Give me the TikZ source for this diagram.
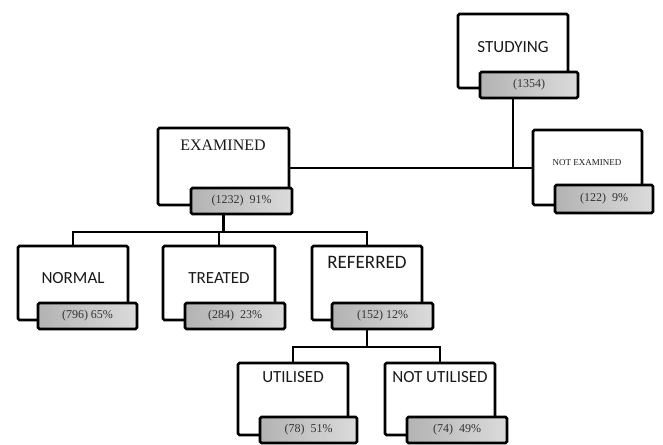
\documentclass[tikz,border=0pt]{standalone}
\usepackage{fontspec}
\setmainfont{Liberation Serif}
\newfontfamily\carlito{Carlito}
\begin{document}
\begin{tikzpicture}[x=1pt,y=-1pt,
  box/.style={draw=black,line width=2.8pt,fill=white,rounded corners=1.5pt,inner sep=0pt},
  lab/.style={draw=black,line width=2.8pt,rounded corners=1.5pt,inner sep=0pt,
    left color=black!30,right color=black!14,
    font=\fontsize{12}{12}\selectfont,text=black!80},
  ttl/.style={font=\carlito\fontsize{17}{17}\selectfont,text=black!90,inner sep=0pt},
  sttl/.style={font=\fontsize{16}{16}\selectfont,text=black!90,inner sep=0pt},
  conn/.style={line width=2.8pt}]
\useasboundingbox (0,0) rectangle (663,444);
% --- STUDYING
\node[box,minimum width=110pt,minimum height=74pt] (st) at (513,51) {};
\node[ttl] (stt) at (513,47) {STUDYING};
\node[lab,minimum width=98pt,minimum height=26pt] (stl) at (529,85) {(1354)};
% --- NOT EXAMINED
\node[box,minimum width=109pt,minimum height=75pt] (ne) at (587.5,167.5) {};
\node[font=\fontsize{9}{9}\selectfont,text=black!90,inner sep=0pt] (net) at (587,163) {NOT EXAMINED};
\node[lab,minimum width=98pt,minimum height=28pt] (nel) at (604,199) {(122)\ \ 9\%};
% --- EXAMINED
\node[box,minimum width=131pt,minimum height=77pt] (ex) at (223.5,166.5) {};
\node[sttl] (ext) at (223,145) {EXAMINED};
\node[lab,minimum width=101pt,minimum height=26pt] (exl) at (241.5,201) {(1232)\ \ 91\%};
% --- NORMAL
\node[box,minimum width=110pt,minimum height=74pt] (no) at (73,283) {};
\node[ttl] (not) at (73,278) {NORMAL};
\node[lab,minimum width=99pt,minimum height=26pt] (nol) at (87.5,316) {(796)\ 65\%};
% --- TREATED
\node[box,minimum width=112pt,minimum height=74pt] (tr) at (219,283) {};
\node[ttl] (trt) at (219,278) {TREATED};
\node[lab,minimum width=100pt,minimum height=26pt] (trl) at (235,316) {(284)\ \ 23\%};
% --- REFERRED
\node[box,minimum width=110pt,minimum height=74pt] (re) at (367,283) {};
\node[ttl,font=\carlito\fontsize{19}{19}\selectfont] (ret) at (367,262) {REFERRED};
\node[lab,minimum width=101pt,minimum height=26pt] (rel) at (382.5,316) {(152)\ 12\%};
% --- UTILISED
\node[box,minimum width=110pt,minimum height=72pt] (ut) at (293,399) {};
\node[ttl] (utt) at (293,377) {UTILISED};
\node[lab,minimum width=97pt,minimum height=26pt] (utl) at (308.5,430) {(78)\ \ 51\%};
% --- NOT UTILISED
\node[box,minimum width=110pt,minimum height=72pt] (nu) at (440,399) {};
\node[ttl] (nut) at (440,377) {NOT UTILISED};
\node[lab,minimum width=100pt,minimum height=26pt] (nul) at (457,430) {(74)\ \ 49\%};
% --- connectors
\coordinate (j1) at (513,168);
\coordinate (b1) at (223.5,232);
\coordinate (b2) at (367,347);
\draw[conn] (stl.south -| st) -- (j1);
\draw[conn] (ex.east |- j1) -- (ne.west |- j1);
\draw[conn] (exl.south -| ex) -- (b1);
\draw[conn] (no.north) -- (no.north |- b1) -- (re.north |- b1) -- (re.north);
\draw[conn] (tr.north) -- (tr.north |- b1);
\draw[conn] (rel.south -| re) -- (b2);
\draw[conn] (ut.north) -- (ut.north |- b2) -- (nu.north |- b2) -- (nu.north);
\end{tikzpicture}
\end{document}
